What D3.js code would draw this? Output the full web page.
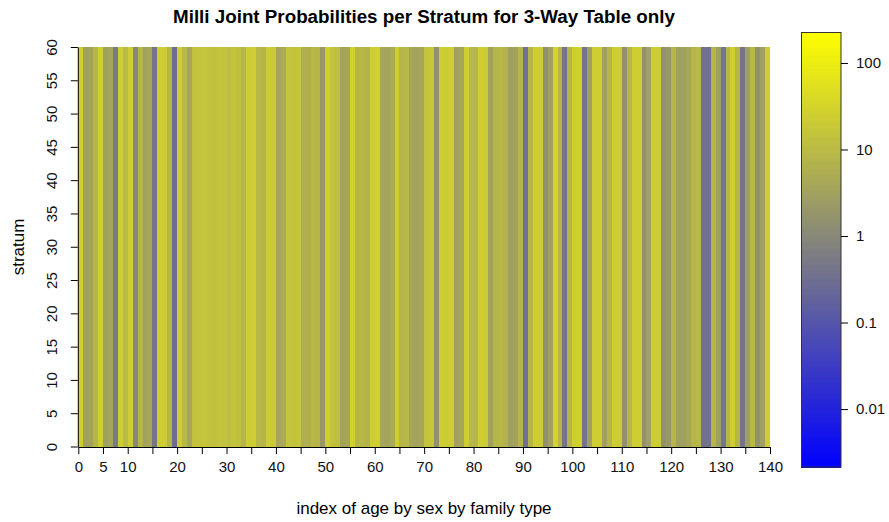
<!DOCTYPE html>
<html><head><meta charset="utf-8">
<script src="https://cdn.jsdelivr.net/npm/d3@7/dist/d3.min.js"></script>
<style>
body{margin:0;background:#fff}
text{font-family:"Liberation Sans",Arial,Helvetica,sans-serif}
</style>
</head><body>
<svg id="chart" width="889" height="522"></svg>
<script>
// ---- data ----
const columnIndex = d3.range(140);
const milliProb = [
  25, 3, 3.5, 8, 25, 3, 4, 0.5, 25, 10,
  24, 1, 8, 3, 4, 0.45, 25, 22, 8, 0.3,
  25, 9, 4, 14, 15, 16, 14, 13, 15, 14,
  12, 15, 13, 8, 22, 24, 9, 8, 22, 20,
  4, 5, 15, 14, 16, 6, 6, 9, 8, 2,
  24, 14, 12, 3.5, 4, 28, 8, 9, 7, 25,
  28, 4, 3.5, 5, 25, 8, 9, 4, 3.5, 4,
  15, 16, 1.5, 25, 22, 24, 3, 4, 25, 9,
  8, 24, 22, 3, 8, 9, 7, 3, 3.5, 8,
  0.35, 8, 25, 22, 1.5, 3, 32, 8, 0.4, 8,
  25, 28, 0.4, 3, 24, 25, 3, 8, 25, 22,
  1.5, 8, 24, 25, 1.5, 3, 25, 22, 1.5, 2,
  8, 3, 3, 4, 8, 9, 0.35, 0.35, 8, 3,
  0.4, 8, 24, 8, 0.4, 3, 9, 1.5, 3, 25
];
const strataRange = [0, 60];
const xTicks = d3.range(0, 141, 5);
const xTickLabels = [0, 5, 10, 20, 30, 40, 50, 60, 70, 80, 90, 100, 110, 120, 130, 140];
const yTicks = d3.range(0, 61, 5);
const legendTicks = [0.01, 0.1, 1, 10, 100];
const legendTickLabels = ["0.01", "0.1", "1", "10", "100"];
const zRange = [0.00214, 228];

// ---- drawing ----
const svg = d3.select("#chart");
const x = d3.scaleLinear().domain([0, 140]).range([78.3, 770]);
const y = d3.scaleLinear().domain(strataRange).range([446.5, 47]);

const lmin = Math.log10(zRange[0]), lmax = Math.log10(zRange[1]);
const colorLog = d3.scaleLinear()
  .domain([lmin, (lmin + lmax) / 2, lmax])
  .range(["#0000ff", "#808080", "#ffff00"])
  .interpolate(d3.interpolateRgb)
  .clamp(true);
const color = v => colorLog(Math.log10(v));

svg.append("g").selectAll("rect")
  .data(columnIndex)
  .join("rect")
  .attr("x", i => x(i))
  .attr("width", i => x(i + 1) - x(i) + 0.4)
  .attr("y", y(strataRange[1]))
  .attr("height", y(strataRange[0]) - y(strataRange[1]))
  .attr("fill", i => color(milliProb[i]))
  .attr("shape-rendering", "crispEdges");

const tickFont = 15;

// x axis
const xAxis = svg.append("g")
  .attr("transform", `translate(0,${y(0) + 0.5})`)
  .call(d3.axisBottom(x).tickValues(xTicks).tickSize(7).tickSizeOuter(0).tickPadding(7)
    .tickFormat(d => xTickLabels.includes(d) ? d : ""));
xAxis.selectAll("text").attr("font-size", tickFont).attr("fill", "#111")
  .attr("font-family", "Liberation Sans, Arial, sans-serif");
xAxis.selectAll("line,path").attr("stroke", "#000");

// y axis
const yAxis = svg.append("g")
  .attr("transform", `translate(${x(0) - 0.5},0)`)
  .call(d3.axisLeft(y).tickValues(yTicks).tickSize(7).tickSizeOuter(0));
yAxis.selectAll("text")
  .attr("font-size", tickFont).attr("fill", "#111")
  .attr("font-family", "Liberation Sans, Arial, sans-serif")
  .attr("x", 0).attr("y", -26).attr("dy", "0.35em")
  .attr("text-anchor", "middle")
  .attr("transform", "rotate(-90)");
yAxis.selectAll("line,path").attr("stroke", "#000");

// titles
svg.append("text").attr("x", 424).attr("y", 23).attr("text-anchor", "middle")
  .attr("font-size", 18.8).attr("font-weight", "bold").attr("fill", "#000")
  .text("Milli Joint Probabilities per Stratum for 3-Way Table only");
svg.append("text").attr("x", 424).attr("y", 514).attr("text-anchor", "middle")
  .attr("font-size", 17).attr("fill", "#000")
  .text("index of age by sex by family type");
svg.append("text").attr("transform", "translate(24,247) rotate(-90)").attr("text-anchor", "middle")
  .attr("font-size", 17).attr("fill", "#000")
  .text("stratum");

// colour legend
const ly = d3.scaleLog().domain(zRange).range([467, 32]);
const steps = d3.range(0, 200);
const lg = svg.append("g");
lg.selectAll("rect")
  .data(steps)
  .join("rect")
  .attr("x", 801)
  .attr("width", 40)
  .attr("y", s => ly(Math.pow(10, lmin + (s + 1) * (lmax - lmin) / 200)))
  .attr("height", s => ly(Math.pow(10, lmin + s * (lmax - lmin) / 200)) - ly(Math.pow(10, lmin + (s + 1) * (lmax - lmin) / 200)) + 0.5)
  .attr("fill", s => colorLog(lmin + (s + 0.5) * (lmax - lmin) / 200))
  .attr("shape-rendering", "crispEdges");
lg.append("rect").attr("x", 801.5).attr("y", 32.5).attr("width", 39.5).attr("height", 434.5)
  .attr("fill", "none").attr("stroke", "#333");
const lAxis = svg.append("g")
  .attr("transform", "translate(841,0)")
  .call(d3.axisRight(ly).tickValues(legendTicks).tickSize(7).tickPadding(8)
    .tickFormat((d, i) => legendTickLabels[i]));
lAxis.select(".domain").remove();
lAxis.selectAll("line").attr("stroke", "#000");
lAxis.selectAll("text").attr("font-size", tickFont).attr("fill", "#111")
  .attr("font-family", "Liberation Sans, Arial, sans-serif");
</script>
</body></html>
